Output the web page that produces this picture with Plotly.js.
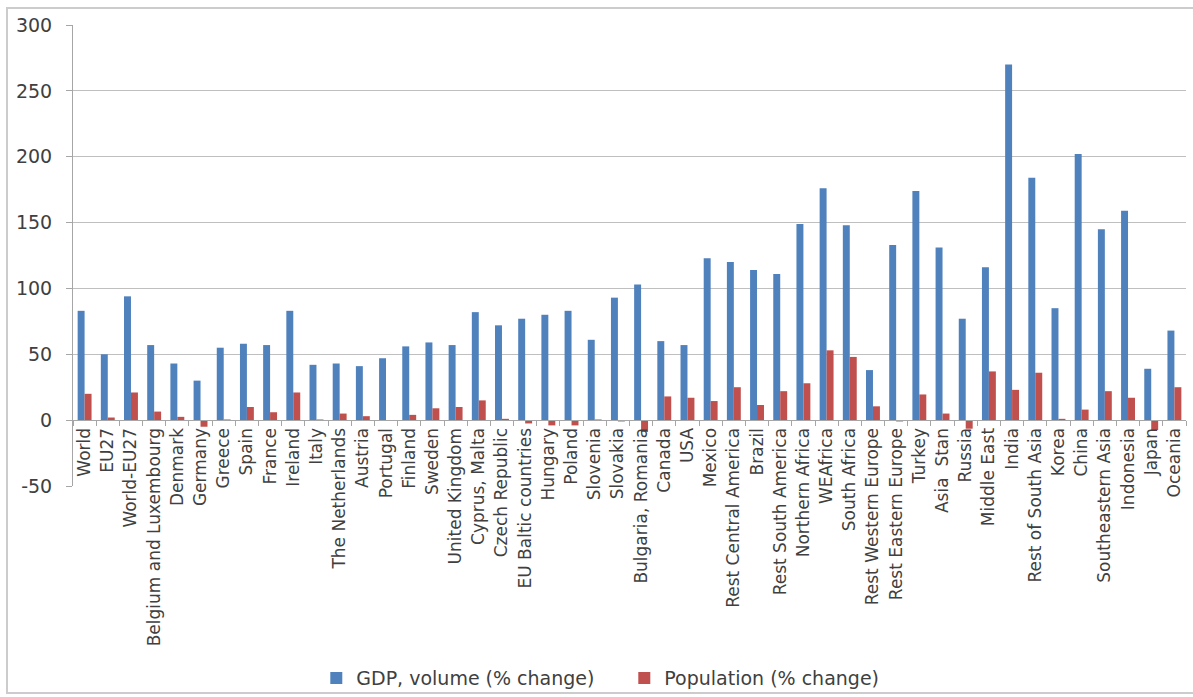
<!DOCTYPE html>
<html>
<head>
<meta charset="utf-8">
<script src="https://cdn.plot.ly/plotly-3.0.1.min.js"></script>
<style>
  html, body { margin: 0; padding: 0; background: #fff; }
  #wrap { position: relative; width: 1193px; height: 697px; overflow: hidden; }
  #chart { width: 1193px; height: 697px; }
  #frame { position: absolute; left: 6px; top: 7px; width: 1200px; height: 687px;
           border: 2px solid #cccccc; pointer-events: none; box-sizing: border-box; }
</style>
</head>
<body>
<div id="wrap">
  <div id="chart"></div>
  <div id="frame"></div>
</div>
<script>
const regions = ["World", "EU27", "World-EU27", "Belgium and Luxembourg", "Denmark", "Germany",
  "Greece", "Spain", "France", "Ireland", "Italy", "The Netherlands", "Austria", "Portugal",
  "Finland", "Sweden", "United Kingdom", "Cyprus, Malta", "Czech Republic", "EU Baltic countries",
  "Hungary", "Poland", "Slovenia", "Slovakia", "Bulgaria, Romania", "Canada", "USA", "Mexico",
  "Rest Central America", "Brazil", "Rest South America", "Northern Africa", "WEAfrica",
  "South Africa", "Rest Western Europe", "Rest Eastern Europe", "Turkey", "Asia\u00a0\u00a0Stan",
  "Russia", "Middle East", "India", "Rest of South Asia", "Korea", "China", "Southeastern Asia",
  "Indonesia", "Japan", "Oceania"];

const gdpChange = [83, 50, 94, 57, 43, 30, 55, 58, 57, 83, 42, 43, 41, 47,
  56, 59, 57, 82, 72, 77, 80, 83, 61, 93, 103, 60, 57, 123,
  120, 114, 111, 149, 176, 148, 38, 133, 174, 131,
  77, 116, 270, 184, 85, 202, 145, 159, 39, 68];

const popChange = [20, 2, 21, 6.5, 2.5, -5, 0.5, 10, 6, 21, 0.5, 5, 3, -0.3,
  4, 9, 10, 15, 1, -2.5, -4, -4, 0.5, -1, -9, 18, 17, 14.5,
  25, 11.5, 22, 28, 53, 48, 10.5, -1, 19.5, 5,
  -6.5, 37, 23, 36, 1, 8, 22, 17, -7.5, 25];

const yTicks = [-50, 0, 50, 100, 150, 200, 250, 300];

const traces = [
  { type: "bar", name: "GDP, volume (% change)", x: regions, y: gdpChange,
    marker: { color: "#4F81BD" }, hoverinfo: "x+y" },
  { type: "bar", name: "Population (% change)", x: regions, y: popChange,
    marker: { color: "#C0504D" }, hoverinfo: "x+y" }
];

const layout = {
  width: 1193, height: 697,
  margin: { l: 73, r: 7, t: 25, b: 211, pad: 0, autoexpand: false },
  paper_bgcolor: "#ffffff", plot_bgcolor: "#ffffff",
  font: { family: "DejaVu Sans, Verdana, sans-serif", color: "#404040" },
  barmode: "group", bargap: 0.4, bargroupgap: 0,
  showlegend: true,
  legend: { orientation: "h", x: 0.2186, xanchor: "left", y: -0.4168, yanchor: "middle",
            font: { size: 19, color: "#404040" }, entrywidth: 263, entrywidthmode: "pixels",
            bgcolor: "rgba(0,0,0,0)", traceorder: "normal" },
  xaxis: {
    type: "category", anchor: "free", position: 50 / 350,
    tickangle: -90, tickfont: { size: 17, color: "#404040" },
    showline: true, linecolor: "#a6a6a6", linewidth: 1,
    ticks: "outside", tickson: "boundaries", ticklen: 5, tickcolor: "#a6a6a6",
    showgrid: false, zeroline: false, automargin: false, fixedrange: true
  },
  yaxis: {
    range: [-50, 300], tickvals: yTicks, ticktext: yTicks.map(String),
    tickfont: { size: 19, color: "#404040" },
    showline: true, linecolor: "#a6a6a6", linewidth: 1,
    ticks: "outside", ticklen: 6, tickcolor: "#a6a6a6", ticklabelstandoff: 10,
    showgrid: true, gridcolor: "#bfbfbf", gridwidth: 1,
    zeroline: false, automargin: false, fixedrange: true
  }
};

Plotly.newPlot("chart", traces, layout, { displayModeBar: false, staticPlot: true });
</script>
</body>
</html>
